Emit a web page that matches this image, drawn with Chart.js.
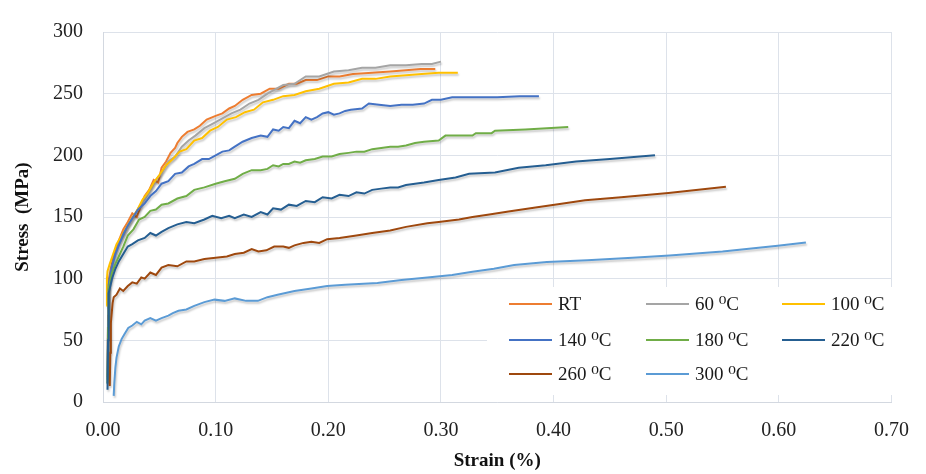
<!DOCTYPE html>
<html>
<head>
<meta charset="utf-8">
<script src="https://cdn.jsdelivr.net/npm/chart.js@4/dist/chart.umd.min.js"></script>
<style>
  html, body { margin: 0; padding: 0; background: #fff; }
  #wrap { width: 926px; height: 474px; }
</style>
</head>
<body>
<div id="wrap"><canvas id="stressChart" width="926" height="474"></canvas></div>
<script>
// Series labels and colours (legend order)
const seriesLabels = ['RT', '60 \u2070C', '100 \u2070C', '140 \u2070C', '180 \u2070C', '220 \u2070C', '260 \u2070C', '300 \u2070C'];
const seriesColors = ['#ED7D31', '#A5A5A5', '#FFC000', '#4472C4', '#70AD47', '#255E91', '#9E480E', '#5B9BD5'];

// Axis ticks
const strainTicks = [0, 0.1, 0.2, 0.3, 0.4, 0.5, 0.6, 0.7];
const stressTicks = [0, 50, 100, 150, 200, 250, 300];

// RT
const rtStrain = [0.004, 0.0045, 0.005, 0.007, 0.009, 0.012, 0.015, 0.018, 0.022, 0.026, 0.030, 0.034, 0.037, 0.041, 0.045, 0.049, 0.052, 0.056, 0.060, 0.064, 0.066, 0.070, 0.075, 0.081, 0.086, 0.092, 0.100, 0.106, 0.112, 0.117, 0.124, 0.132, 0.140, 0.148, 0.156, 0.165, 0.172, 0.180, 0.190, 0.200, 0.210, 0.222, 0.239, 0.255, 0.269, 0.282, 0.295];
const rtStress = [20, 70, 98, 108, 117, 126, 133, 140, 146, 153, 150, 160, 167, 172, 180, 178, 190, 195, 202, 206, 210, 215, 219, 221, 224, 229, 232, 234, 238, 240, 245, 249, 250, 254, 254, 258, 258, 261, 261, 264, 264, 266, 267, 268, 269, 270, 270];

// 60 C
const t60Strain = [0.004, 0.0045, 0.005, 0.007, 0.010, 0.014, 0.018, 0.022, 0.027, 0.032, 0.037, 0.042, 0.047, 0.052, 0.058, 0.064, 0.070, 0.076, 0.082, 0.090, 0.098, 0.106, 0.114, 0.122, 0.130, 0.138, 0.146, 0.152, 0.160, 0.170, 0.180, 0.192, 0.205, 0.218, 0.230, 0.242, 0.255, 0.269, 0.283, 0.292, 0.300];
const t60Stress = [18, 65, 95, 105, 117, 128, 135, 143, 150, 158, 164, 172, 180, 186, 195, 199, 207, 212, 216, 222, 226, 230, 234, 237, 242, 245, 250, 253, 257, 258, 264, 264, 268, 269, 271, 271, 273, 273, 274, 274, 276];

// 100 C
const t100Strain = [0.003, 0.0035, 0.004, 0.006, 0.009, 0.012, 0.016, 0.020, 0.025, 0.030, 0.035, 0.040, 0.045, 0.050, 0.056, 0.062, 0.068, 0.074, 0.081, 0.088, 0.095, 0.102, 0.110, 0.118, 0.126, 0.134, 0.142, 0.151, 0.160, 0.170, 0.180, 0.192, 0.205, 0.218, 0.230, 0.242, 0.255, 0.269, 0.283, 0.298, 0.306, 0.315];
const t100Stress = [78, 100, 106, 112, 120, 128, 134, 140, 148, 155, 164, 170, 178, 184, 192, 197, 203, 205, 212, 214, 220, 223, 229, 231, 235, 237, 243, 245, 248, 249, 252, 254, 258, 259, 262, 262, 264, 265, 266, 267, 267, 267];

// 140 C
const t140Strain = [0.004, 0.0045, 0.005, 0.008, 0.011, 0.014, 0.018, 0.022, 0.026, 0.031, 0.037, 0.042, 0.047, 0.052, 0.058, 0.064, 0.070, 0.076, 0.081, 0.088, 0.094, 0.100, 0.106, 0.112, 0.117, 0.124, 0.132, 0.140, 0.146, 0.151, 0.156, 0.160, 0.165, 0.170, 0.175, 0.180, 0.185, 0.190, 0.195, 0.200, 0.205, 0.210, 0.215, 0.220, 0.230, 0.236, 0.245, 0.255, 0.265, 0.275, 0.285, 0.292, 0.300, 0.310, 0.330, 0.350, 0.370, 0.387];
const t140Stress = [15, 60, 95, 110, 120, 127, 136, 143, 149, 156, 161, 167, 171, 177, 179, 185, 186, 191, 193, 197, 197, 200, 203, 204, 207, 211, 214, 216, 215, 221, 220, 223, 222, 228, 226, 231, 229, 231, 234, 235, 233, 234, 236, 237, 238, 242, 241, 240, 241, 241, 242, 245, 245, 247, 247, 247, 248, 248];

// 180 C
const t180Strain = [0.004, 0.0045, 0.005, 0.008, 0.011, 0.014, 0.018, 0.022, 0.027, 0.032, 0.037, 0.042, 0.047, 0.052, 0.058, 0.066, 0.074, 0.081, 0.090, 0.100, 0.108, 0.117, 0.124, 0.132, 0.140, 0.146, 0.151, 0.156, 0.160, 0.165, 0.170, 0.175, 0.180, 0.188, 0.195, 0.203, 0.210, 0.218, 0.225, 0.232, 0.239, 0.247, 0.255, 0.262, 0.269, 0.277, 0.285, 0.298, 0.304, 0.328, 0.331, 0.345, 0.348, 0.375, 0.413];
const t180Stress = [15, 60, 92, 105, 112, 118, 126, 135, 140, 148, 150, 155, 156, 160, 161, 165, 167, 172, 174, 177, 179, 181, 185, 188, 188, 189, 192, 191, 193, 193, 195, 194, 196, 197, 199, 199, 201, 202, 203, 203, 205, 206, 207, 207, 208, 210, 211, 212, 216, 216, 218, 218, 220, 221, 223];

// 220 C
const t220Strain = [0.004, 0.0045, 0.005, 0.008, 0.011, 0.014, 0.018, 0.022, 0.026, 0.031, 0.037, 0.042, 0.047, 0.052, 0.058, 0.066, 0.074, 0.081, 0.090, 0.097, 0.105, 0.112, 0.117, 0.125, 0.132, 0.140, 0.146, 0.151, 0.158, 0.165, 0.172, 0.180, 0.188, 0.195, 0.203, 0.210, 0.218, 0.225, 0.232, 0.239, 0.247, 0.255, 0.262, 0.269, 0.277, 0.285, 0.298, 0.313, 0.325, 0.348, 0.369, 0.393, 0.420, 0.450, 0.490];
const t220Stress = [10, 50, 88, 100, 108, 114, 120, 126, 128, 131, 133, 137, 135, 138, 141, 144, 146, 145, 148, 151, 149, 151, 149, 152, 150, 154, 152, 157, 156, 160, 159, 163, 162, 166, 165, 168, 167, 170, 169, 172, 173, 174, 174, 176, 177, 178, 180, 182, 185, 186, 190, 192, 195, 197, 200];

// 260 C
const t260Strain = [0.006, 0.0065, 0.007, 0.0085, 0.0095, 0.012, 0.015, 0.018, 0.022, 0.026, 0.030, 0.034, 0.037, 0.042, 0.047, 0.052, 0.058, 0.066, 0.074, 0.081, 0.090, 0.100, 0.110, 0.117, 0.125, 0.132, 0.138, 0.145, 0.152, 0.160, 0.165, 0.170, 0.178, 0.185, 0.192, 0.199, 0.210, 0.225, 0.239, 0.255, 0.269, 0.288, 0.298, 0.316, 0.328, 0.343, 0.360, 0.384, 0.407, 0.428, 0.460, 0.502, 0.553];
const t260Stress = [13, 40, 64, 80, 85, 87, 92, 90, 94, 97, 96, 101, 100, 105, 103, 109, 111, 110, 114, 114, 116, 117, 118, 120, 121, 124, 122, 123, 126, 126, 125, 127, 129, 130, 129, 132, 133, 135, 137, 139, 142, 145, 146, 148, 150, 152, 154.5, 157.7, 160.8, 163.5, 166, 169.5, 174.6];

// 300 C
const t300Strain = [0.0095, 0.010, 0.011, 0.012, 0.014, 0.0165, 0.019, 0.0224, 0.026, 0.030, 0.034, 0.037, 0.042, 0.047, 0.052, 0.058, 0.062, 0.067, 0.074, 0.081, 0.090, 0.099, 0.108, 0.117, 0.127, 0.1375, 0.146, 0.155, 0.170, 0.185, 0.199, 0.215, 0.2436, 0.265, 0.288, 0.310, 0.328, 0.347, 0.365, 0.394, 0.430, 0.470, 0.503, 0.550, 0.599, 0.624];
const t300Stress = [5, 15, 28, 36, 45, 51, 55, 60, 62, 65, 63, 66, 68, 66, 68, 70, 72, 74, 75, 78, 81, 83, 82, 84, 82, 82, 85, 87, 90, 92, 94, 95, 96.5, 99, 101, 103, 105.6, 108, 111, 113.6, 115, 117, 118.8, 122, 126.6, 129.3];

const strainSets = [rtStrain, t60Strain, t100Strain, t140Strain, t180Strain, t220Strain, t260Strain, t300Strain];
const stressSets = [rtStress, t60Stress, t100Stress, t140Stress, t180Stress, t220Stress, t260Stress, t300Stress];

const serif = "'Liberation Serif', 'Times New Roman', 'DejaVu Serif', serif";

// soft shadow under the lines, like the original spreadsheet chart
const lineShadow = {
    id: 'lineShadow',
    beforeDatasetsDraw(chart) {
        const ctx = chart.ctx;
        ctx.save();
        ctx.shadowColor = 'rgba(0, 0, 0, 0.22)';
        ctx.shadowBlur = 2;
        ctx.shadowOffsetX = 1;
        ctx.shadowOffsetY = 2;
    },
    afterDatasetsDraw(chart) {
        chart.ctx.restore();
    }
};

// 3-column legend drawn inside the plot area
const boxLegend = {
    id: 'boxLegend',
    afterDatasetsDraw(chart) {
        const ctx = chart.ctx;
        ctx.save();
        ctx.fillStyle = '#ffffff';
        ctx.fillRect(487, 287, 406, 108);
        const colX = [509, 646, 782];
        const rowY = [304, 340, 374];
        ctx.font = '19px ' + serif;
        ctx.textBaseline = 'middle';
        ctx.textAlign = 'left';
        chart.data.datasets.forEach((ds, i) => {
            const x = colX[i % 3];
            const y = rowY[Math.floor(i / 3)];
            ctx.strokeStyle = ds.borderColor;
            ctx.lineWidth = 2;
            ctx.beginPath();
            ctx.moveTo(x, y);
            ctx.lineTo(x + 43, y);
            ctx.stroke();
            ctx.fillStyle = '#1a1a1a';
            ctx.fillText(ds.label, x + 49, y + 1);
        });
        ctx.restore();
    }
};

const datasets = seriesLabels.map((label, i) => ({
    label: label,
    data: strainSets[i].map((s, k) => ({ x: s, y: stressSets[i][k] })),
    borderColor: seriesColors[i],
    backgroundColor: seriesColors[i],
    borderWidth: 2,
    pointRadius: 0,
    tension: 0,
    fill: false,
    order: -i
}));

new Chart(document.getElementById('stressChart'), {
    type: 'line',
    data: { datasets },
    options: {
        responsive: false,
        animation: false,
        layout: { padding: { left: 0, right: 32, top: 20, bottom: 0 } },
        plugins: { legend: { display: false }, tooltip: { enabled: false } },
        scales: {
            x: {
                type: 'linear',
                min: 0,
                max: 0.7,
                afterFit: (s) => { s.height = 72; },
                afterBuildTicks: (s) => { s.ticks = strainTicks.map(v => ({ value: v })); },
                grid: { color: '#dde2ea', drawTicks: false, lineWidth: 1 },
                border: { color: '#d3d8e0' },
                ticks: {
                    padding: 17,
                    color: '#222',
                    font: { family: serif, size: 20 },
                    callback: (v) => Number(v).toFixed(2)
                },
                title: {
                    display: true,
                    text: 'Strain (%)',
                    color: '#111',
                    font: { family: serif, size: 19, weight: 'bold' },
                    padding: { top: 0, bottom: 2 }
                }
            },
            y: {
                min: 0,
                max: 300,
                afterFit: (s) => { s.width = 103; },
                afterBuildTicks: (s) => { s.ticks = stressTicks.map(v => ({ value: v })); },
                grid: { color: '#dde2ea', drawTicks: false, lineWidth: 1 },
                border: { color: '#d3d8e0' },
                ticks: {
                    padding: 20,
                    color: '#222',
                    font: { family: serif, size: 20 }
                },
                title: {
                    display: true,
                    text: 'Stress  (MPa)',
                    color: '#111',
                    font: { family: serif, size: 19, weight: 'bold' },
                    padding: { top: 12, bottom: 0 }
                }
            }
        }
    },
    plugins: [lineShadow, boxLegend]
});
</script>
</body>
</html>
